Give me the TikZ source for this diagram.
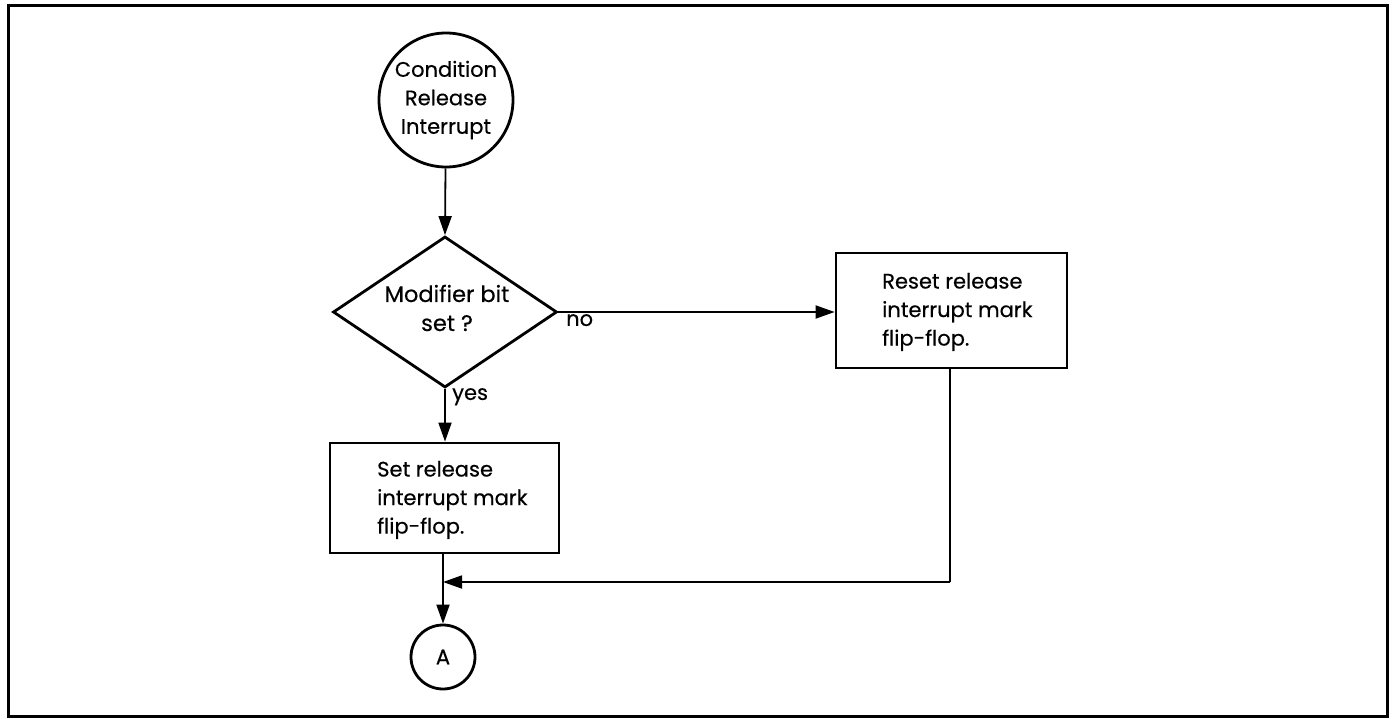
\documentclass[tikz,border=0pt]{standalone}
\usepackage{fontspec}
\setmainfont{Poppins}[FakeBold=0.4]
\usetikzlibrary{arrows.meta,shapes.geometric}
\begin{document}
\begin{tikzpicture}[x=1pt,y=-1pt,
  shapeline/.style={draw=black,line width=2.8pt},
  conn/.style={draw=black,line width=1.8pt,-{Triangle[length=19pt,width=13pt]}},
  plain/.style={draw=black,line width=1.8pt},
  txt/.style={font=\fontsize{21}{28.5}\selectfont,inner sep=0pt,align=left},
  ctxt/.style={font=\fontsize{21}{28.5}\selectfont,inner sep=0pt,align=center}]
\useasboundingbox (0,0) rectangle (1395,719);
\draw[line width=3pt] (8,6) rectangle (1387,716);
\node[shapeline,circle,minimum size=134pt,inner sep=0pt,ctxt] (start) at (446,100) {Condition\\Release\\Interrupt};
\node[shapeline,diamond,minimum width=224pt,minimum height=151pt,inner sep=0pt] (dec) at (445,312) {};
\node[ctxt,font=\fontsize{22.5}{29}\selectfont] (dect) at (447,308) {Modifier bit\\set ?};
\node[shapeline,rectangle,minimum width=231pt,minimum height=115pt,inner sep=0pt] (reset) at (951.5,310.5) {};
\node[txt,anchor=west] (resett) at (882,312) {Reset release\\interrupt mark\\flip-flop.};
\node[shapeline,rectangle,minimum width=229pt,minimum height=110pt,inner sep=0pt] (set) at (444.5,498) {};
\node[txt,anchor=west] (sett) at (377,500) {Set release\\interrupt mark\\flip-flop.};
\node[shapeline,circle,minimum size=64pt,inner sep=0pt,ctxt] (A) at (443,657) {A};
\coordinate (merge) at (443,582);
\coordinate (corner) at (950,582);
\draw[conn] (start) -- (dec.north);
\draw[conn] (dec.east) -- (dec.east -| reset.west);
\draw[conn] (dec.south) -- (set.north -| dec.south);
\draw[conn] (set.south -| merge) -- (A.north);
\draw[plain] (reset.south -| corner) -- (corner);
\draw[conn] (corner) -- (merge);
\node[ctxt,anchor=north west] (no) at (566,314) {no};
\node[ctxt,anchor=north west] (yes) at (452,388) {yes};
\end{tikzpicture}
\end{document}
